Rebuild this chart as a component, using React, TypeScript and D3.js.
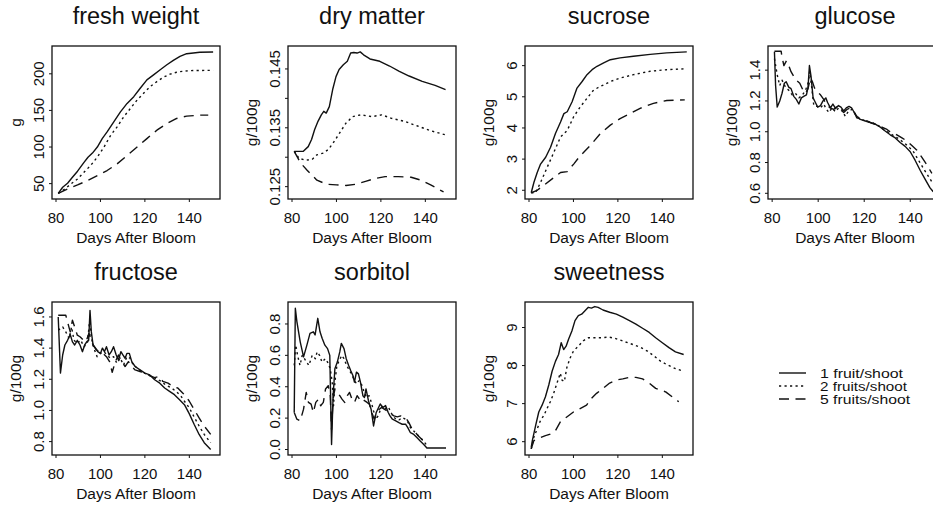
import React from "react";
import * as d3 from "d3";

type Pt = [number, number];

// ---------------- data ----------------
const panelTitles = ["fresh weight", "dry matter", "sucrose", "glucose", "fructose", "sorbitol", "sweetness"];
const yAxisLabels = ["g", "g/100g", "g/100g", "g/100g", "g/100g", "g/100g", "g/100g"];
const xAxisLabel = "Days After Bloom";
const xTickValues = [80, 100, 120, 140];
const legendLabels = ["1 fruit/shoot", "2 fruits/shoot", "5 fruits/shoot"];

const freshTicks = [50, 100, 150, 200];
const freshTickLabels = ["50", "100", "150", "200"];
const dryTicks = [0.125, 0.13, 0.135, 0.14, 0.145];
const dryTickLabels = ["0.125", "", "0.135", "", "0.145"];
const sucroseTicks = [2, 3, 4, 5, 6];
const sucroseTickLabels = ["2", "3", "4", "5", "6"];
const glucoseTicks = [0.6, 0.8, 1.0, 1.2, 1.4];
const glucoseTickLabels = ["0.6", "0.8", "1.0", "1.2", "1.4"];
const fructoseTicks = [0.8, 1.0, 1.2, 1.4, 1.6];
const fructoseTickLabels = ["0.8", "1.0", "1.2", "1.4", "1.6"];
const sorbitolTicks = [0, 0.2, 0.4, 0.6, 0.8];
const sorbitolTickLabels = ["0.0", "0.2", "0.4", "0.6", "0.8"];
const sweetTicks = [6, 7, 8, 9];
const sweetTickLabels = ["6", "7", "8", "9"];

const fresh1: Pt[] = [[81,36.7],[83,45],[85.2,50.5],[87.4,58.7],[89.7,67],[92.6,79],[94.4,86],[96.4,91.7],[98.6,100],[100.8,111.5],[103,120.6],[106,134.4],[109,148],[112,159.6],[115,168.8],[117.9,180.3],[120.9,191.7],[123.9,198.6],[126.9,205.5],[129.9,212.4],[132.8,218.3],[135.8,223.9],[138.8,227.5],[141.8,228.4],[144.7,229.4],[150.7,229.8]];
const fresh2: Pt[] = [[81,36.7],[84,42.7],[86.7,49.5],[89.7,56.4],[92.6,65.6],[95.6,74.8],[98.6,86.2],[101.6,100],[104.6,116],[107.5,127.5],[110.5,141.3],[113.5,152.8],[116.5,164.2],[119.4,173.4],[122.4,182.6],[125.4,189.4],[128.4,195.4],[131.3,199.5],[134.3,202.2],[137.3,203.6],[141.8,204.5],[150.7,204.8]];
const fresh5: Pt[] = [[81,36.7],[85.2,42.7],[89.7,48.2],[94.1,54.1],[98.6,61],[103,67.9],[107.5,77],[112,88.5],[116.5,100],[120.9,111.5],[125.4,123],[129.9,132.1],[134.3,139],[138.8,142.2],[144.7,143.6],[148.5,143.6]];

const dry1: Pt[] = [[81,0.131],[85.1,0.131],[87.3,0.1318],[88.8,0.133],[90.2,0.1347],[91.7,0.1361],[93.2,0.1372],[94.3,0.1378],[95.4,0.1375],[96.8,0.1386],[98.3,0.1415],[99.8,0.1437],[101.2,0.1449],[103.1,0.1457],[104.9,0.1463],[106.4,0.1477],[107.8,0.1478],[109.3,0.1477],[110.7,0.1479],[112.2,0.1474],[115.1,0.1467],[119.5,0.1463],[123.9,0.1455],[128.3,0.1446],[132.7,0.1438],[138.6,0.1429],[144.4,0.1422],[149.1,0.1415]];
const dry2: Pt[] = [[81,0.131],[83.2,0.1298],[86.1,0.1295],[89,0.1296],[91.2,0.1304],[94.1,0.1307],[96.3,0.1313],[98.5,0.1324],[101.4,0.1341],[104.3,0.1358],[107.3,0.1369],[110.9,0.1372],[116,0.1369],[120.4,0.1372],[124.8,0.1366],[130.6,0.1361],[136.5,0.1353],[142.4,0.1345],[149.1,0.1338]];
const dry5: Pt[] = [[81,0.131],[83.9,0.129],[86.8,0.1278],[91.2,0.1261],[95.6,0.1254],[100,0.1253],[104.3,0.1252],[108.7,0.1254],[113.1,0.1259],[117.5,0.1264],[121.9,0.1267],[127.8,0.1267],[133.6,0.1266],[138,0.1261],[142.4,0.1253],[148.2,0.1241]];

const sucrose1: Pt[] = [[81,1.92],[82.2,2.25],[83.7,2.57],[85.2,2.84],[87.5,3.06],[89.7,3.38],[91.9,3.82],[94.2,4.19],[95.7,4.46],[97.2,4.52],[99.4,4.84],[101.6,5.28],[103.9,5.49],[106.1,5.71],[108.4,5.87],[110.6,5.98],[113.6,6.09],[116.6,6.19],[121,6.25],[127,6.3],[134.5,6.36],[142,6.41],[151,6.44]];
const sucrose2: Pt[] = [[81,1.92],[82.9,1.92],[85.2,2.25],[88.2,2.74],[91.2,3.22],[94.2,3.71],[97.2,3.92],[100.1,4.36],[103.1,4.68],[106.1,4.95],[109.1,5.22],[112.1,5.33],[116.6,5.49],[121,5.6],[127,5.71],[134.5,5.82],[142,5.87],[151,5.9]];
const sucrose5: Pt[] = [[81,1.92],[83.7,2],[86.7,2.16],[91.2,2.41],[94.2,2.57],[97.2,2.6],[100.1,2.84],[103.1,3.11],[107.6,3.44],[112.1,3.82],[116.6,4.09],[121,4.3],[125.5,4.46],[130,4.63],[136,4.79],[142,4.88],[150.1,4.9]];

const glucose1: Pt[] = [[81,1.52],[81.5,1.3],[82.2,1.16],[83.3,1.2],[84.3,1.25],[85.3,1.315],[86.1,1.325],[87.2,1.29],[88.2,1.28],[89.4,1.23],[90.5,1.21],[91.6,1.18],[92.7,1.22],[93.7,1.23],[94.9,1.24],[95.6,1.29],[96.2,1.43],[96.9,1.36],[97.8,1.22],[98.8,1.19],[99.8,1.16],[101,1.17],[102.1,1.2],[103.3,1.22],[104.1,1.19],[105.3,1.155],[106.4,1.18],[107.6,1.15],[108.8,1.17],[109.9,1.16],[111.1,1.135],[112.2,1.155],[113.4,1.165],[114.5,1.155],[115.7,1.125],[116.8,1.1],[118.3,1.08],[120.5,1.07],[122.6,1.06],[124.8,1.05],[127,1.03],[129.1,1.005],[131.3,0.98],[133.5,0.96],[135.6,0.93],[137.8,0.905],[140,0.87],[142.1,0.815],[144.3,0.75],[146.5,0.69],[148.6,0.635],[150,0.61]];
const glucose2: Pt[] = [[81,1.475],[82.2,1.37],[83.3,1.3],[84.3,1.335],[85.8,1.29],[87.2,1.27],[88.7,1.24],[90.1,1.25],[91.6,1.22],[93,1.235],[94.5,1.27],[95.6,1.315],[96.3,1.39],[97.1,1.3],[98.1,1.17],[99.5,1.165],[101,1.155],[102.4,1.18],[103.6,1.145],[104.7,1.125],[106,1.155],[107.5,1.13],[108.9,1.155],[110.3,1.14],[111.8,1.1],[113.2,1.135],[114.7,1.145],[116.1,1.115],[117.6,1.09],[119.7,1.075],[121.9,1.065],[124.1,1.055],[126.2,1.04],[128.4,1.015],[130.6,0.995],[132.7,0.975],[134.9,0.955],[137.1,0.93],[139.2,0.905],[141.4,0.87],[143.6,0.815],[145.8,0.76],[147.9,0.71],[149.8,0.665]];
const glucose5: Pt[] = [[81,1.523],[83.9,1.523],[84.3,1.485],[85.1,1.43],[86.2,1.46],[87.2,1.43],[88.2,1.39],[89.4,1.36],[90.5,1.335],[92,1.315],[93.4,1.27],[94.5,1.25],[95.6,1.28],[96.6,1.35],[97.5,1.325],[98.4,1.285],[99.5,1.26],[101,1.24],[102.4,1.21],[103.8,1.17],[105.3,1.155],[106.7,1.145],[108.2,1.165],[109.6,1.145],[111.1,1.125],[112.5,1.145],[114,1.155],[115.4,1.135],[116.8,1.09],[119,1.08],[121.2,1.07],[123.4,1.055],[125.5,1.045],[127.7,1.03],[129.9,1.015],[132,0.99],[134.2,0.98],[136.4,0.96],[138.5,0.94],[140.7,0.91],[142.9,0.88],[145,0.835],[147.2,0.785],[149.4,0.73]];

const fructose1: Pt[] = [[81,1.6],[82,1.24],[83,1.356],[84,1.42],[85.2,1.45],[86.4,1.487],[87.4,1.44],[88.4,1.42],[89.6,1.45],[90.8,1.42],[91.9,1.377],[92.9,1.42],[93.8,1.44],[94.7,1.45],[95.3,1.642],[95.9,1.504],[96.7,1.42],[97.8,1.4],[98.8,1.377],[100,1.366],[100.9,1.4],[101.8,1.377],[102.7,1.409],[103.9,1.356],[104.9,1.377],[105.9,1.409],[107.1,1.356],[108.1,1.324],[109.2,1.377],[110.1,1.356],[111.1,1.335],[111.9,1.366],[113,1.366],[114.1,1.313],[115.6,1.282],[117.8,1.26],[120,1.239],[122.2,1.228],[124.4,1.197],[126.7,1.175],[128.9,1.144],[131.1,1.122],[133.3,1.101],[135.6,1.069],[137.8,1.037],[140,0.978],[142.2,0.91],[144.4,0.846],[146.7,0.793],[149.6,0.75]];
const fructose2: Pt[] = [[81,1.515],[83,1.536],[84.4,1.504],[85.9,1.462],[87,1.536],[88.1,1.451],[89.6,1.43],[91.1,1.451],[92.6,1.409],[94.1,1.43],[95.1,1.568],[96,1.462],[97,1.4],[98.5,1.345],[100,1.366],[101.5,1.377],[103,1.356],[104.4,1.335],[105.9,1.345],[107.4,1.303],[108.9,1.335],[110.4,1.292],[111.9,1.345],[113.3,1.335],[114.8,1.292],[116.6,1.271],[118.5,1.25],[120.7,1.233],[123,1.218],[125.2,1.203],[127.4,1.186],[129.6,1.161],[131.9,1.144],[134.1,1.122],[136.3,1.09],[137.8,1.059],[140,1.016],[142.2,0.957],[144.4,0.9],[146.7,0.846],[149.6,0.793]];
const fructose5: Pt[] = [[81,1.611],[84.4,1.611],[85.2,1.568],[86.4,1.504],[87.4,1.579],[88.4,1.536],[89.6,1.483],[90.8,1.473],[92.3,1.451],[93.5,1.441],[94.8,1.494],[95.6,1.462],[96.7,1.42],[98.2,1.388],[99.7,1.377],[101.2,1.366],[102.7,1.345],[104.1,1.313],[105.3,1.245],[106.7,1.313],[108.1,1.356],[109.6,1.313],[111.1,1.282],[112.6,1.313],[114.1,1.282],[115.6,1.26],[117.8,1.25],[120,1.239],[122.2,1.224],[124.4,1.211],[126.4,1.218],[128.1,1.186],[130.4,1.175],[132.6,1.154],[134.8,1.144],[137,1.112],[138.5,1.09],[140,1.059],[142.2,1.005],[144.4,0.952],[146.7,0.9],[149.6,0.846]];

const sorbitol1: Pt[] = [[81,0.236],[81.5,0.9],[82.2,0.815],[83.7,0.686],[85.2,0.59],[86.7,0.665],[88.1,0.74],[89.6,0.75],[90.4,0.73],[91.6,0.836],[92.6,0.75],[93.6,0.708],[94.8,0.665],[96,0.643],[97,0.6],[97.8,0.032],[98.5,0.343],[99.3,0.515],[100.4,0.557],[101.5,0.622],[102.2,0.676],[103.4,0.643],[104.4,0.579],[105.5,0.536],[106.4,0.504],[107.4,0.472],[108.1,0.429],[109,0.493],[109.9,0.482],[110.8,0.429],[111.9,0.343],[112.6,0.332],[113.3,0.386],[114.4,0.311],[115.6,0.257],[116.7,0.15],[117.9,0.236],[119.7,0.29],[120.9,0.268],[122.1,0.28],[123.3,0.236],[124.1,0.214],[125.2,0.193],[126.7,0.182],[128.1,0.171],[129.6,0.161],[131.1,0.161],[132.1,0.139],[133.3,0.107],[134.8,0.096],[136.3,0.075],[137.8,0.053],[139.3,0.032],[140.7,0.01],[149.3,0.01]];
const sorbitol2: Pt[] = [[81,0.536],[81.7,0.665],[82.5,0.6],[83.6,0.536],[84.6,0.6],[86.1,0.568],[87.6,0.536],[89.1,0.6],[90.5,0.579],[91.3,0.622],[92.4,0.6],[93.5,0.557],[95,0.579],[96,0.557],[97.2,0.515],[98.1,0.429],[98.7,0.279],[99.3,0.429],[100.2,0.536],[101.3,0.568],[102.4,0.6],[103.4,0.579],[104.6,0.536],[105.8,0.504],[106.8,0.482],[107.8,0.45],[109,0.418],[110.2,0.439],[111.2,0.418],[112.3,0.375],[113.5,0.332],[114.7,0.343],[115.7,0.3],[116.7,0.246],[117.9,0.193],[119.1,0.225],[120.1,0.268],[121.1,0.279],[122.3,0.257],[123.5,0.268],[124.5,0.236],[125.5,0.214],[126.7,0.193],[128.1,0.188],[129.6,0.204],[131.1,0.193],[132.3,0.171],[133.3,0.139],[134.8,0.118],[136.3,0.096],[137.8,0.075],[139.3,0.053],[140.7,0.025]];
const sorbitol5: Pt[] = [[81,0.236],[82.2,0.193],[83.7,0.182],[85.2,0.257],[86.4,0.364],[87.4,0.3],[88.6,0.289],[89.6,0.236],[90.7,0.3],[91.9,0.321],[92.9,0.279],[94.1,0.3],[95.1,0.386],[96.3,0.407],[97.2,0.343],[97.8,0.128],[98.5,0.321],[99.3,0.386],[100.4,0.364],[101.5,0.343],[102.5,0.321],[103.7,0.3],[104.9,0.343],[105.9,0.364],[107,0.321],[108.1,0.3],[109.3,0.343],[110.4,0.321],[111.4,0.332],[112.6,0.311],[113.8,0.3],[114.8,0.289],[115.9,0.236],[117,0.193],[118.2,0.236],[119.3,0.257],[120.3,0.268],[121.5,0.257],[122.7,0.246],[123.7,0.236],[124.7,0.225],[125.9,0.214],[127.4,0.208],[128.9,0.214],[130.4,0.204],[131.6,0.193],[132.6,0.171],[134.1,0.128],[135.6,0.107],[137,0.085],[138.5,0.064],[140,0.032]];

const sweet1: Pt[] = [[81,5.85],[81.5,6.03],[83,6.43],[84.4,6.78],[85.9,6.96],[87.4,7.18],[88.9,7.49],[90.4,7.85],[91.9,8.11],[93.3,8.29],[94.5,8.6],[95.6,8.42],[96.7,8.51],[97.8,8.69],[99.3,8.91],[100.7,9.18],[102.2,9.31],[103.7,9.35],[105.2,9.44],[106.7,9.53],[108.1,9.51],[109.6,9.55],[111.1,9.53],[113.3,9.46],[116.3,9.4],[119.3,9.35],[122.2,9.27],[125.2,9.18],[128.1,9.09],[131.1,8.98],[134.1,8.87],[137,8.73],[140,8.6],[143,8.47],[145.9,8.36],[149.6,8.29]];
const sweet2: Pt[] = [[81,5.81],[82.2,6.12],[83.7,6.34],[85.2,6.56],[86.7,6.69],[88.1,6.87],[89.6,7.05],[91.1,7.27],[92.6,7.54],[94.1,7.8],[94.8,7.62],[95.9,7.58],[97,7.94],[98.5,8.2],[100,8.38],[102.2,8.51],[104.4,8.65],[106.7,8.73],[109.6,8.73],[112.6,8.73],[115.6,8.75],[118.5,8.72],[121.5,8.66],[124.4,8.6],[127.4,8.54],[130.4,8.47],[133.3,8.38],[136.3,8.25],[139.3,8.11],[142.2,8.02],[145.9,7.92],[149.6,7.85]];
const sweet5: Pt[] = [[81,5.81],[82.2,6.03],[84.4,6.09],[87.4,6.16],[89.6,6.2],[91.9,6.29],[94.1,6.52],[97,6.65],[100,6.78],[103,6.87],[105.9,6.96],[108.1,7.14],[110.4,7.27],[113.3,7.4],[116.3,7.54],[119.3,7.62],[122.2,7.65],[125.2,7.69],[128.1,7.69],[131.1,7.65],[134.1,7.54],[137,7.4],[141.5,7.31],[144.4,7.18],[147.4,7.05]];

// ---------------- layout / styles ----------------
const W = 933;
const H = 509;
const COL_X = [52, 288, 525, 768];
const COL_W = [168, 168, 168, 174];
const ROW_Y = [46, 302];
const BOX_H = 153;
const X_DOMAIN: [number, number] = [78.2, 153.8];
const FONT = "'Liberation Sans', Arial, Helvetica, sans-serif";
const DASHES = [undefined, "2.2,3.3", "10,6.5"];
const LEGEND_ROWS = [373, 386, 399];
const LEGEND_TEXT_W = [83, 87, 90];

const panels = [
  { series: [fresh1, fresh2, fresh5], ticks: freshTicks, labels: freshTickLabels, yDomain: [29, 238] },
  { series: [dry1, dry2, dry5], ticks: dryTicks, labels: dryTickLabels, yDomain: [0.1229, 0.1489] },
  { series: [sucrose1, sucrose2, sucrose5], ticks: sucroseTicks, labels: sucroseTickLabels, yDomain: [1.72, 6.63] },
  { series: [glucose1, glucose2, glucose5], ticks: glucoseTicks, labels: glucoseTickLabels, yDomain: [0.563, 1.557] },
  { series: [fructose1, fructose2, fructose5], ticks: fructoseTicks, labels: fructoseTickLabels, yDomain: [0.714, 1.696] },
  { series: [sorbitol1, sorbitol2, sorbitol5], ticks: sorbitolTicks, labels: sorbitolTickLabels, yDomain: [-0.035, 0.94] },
  { series: [sweet1, sweet2, sweet5], ticks: sweetTicks, labels: sweetTickLabels, yDomain: [5.65, 9.67] },
];

function Panel({ idx }: { idx: number }) {
  const p = panels[idx];
  const col = idx % 4;
  const row = Math.floor(idx / 4);
  const x0 = COL_X[col];
  const w = COL_W[col];
  const y0 = ROW_Y[row];
  const xs = d3.scaleLinear().domain(X_DOMAIN).range([x0, x0 + w]);
  const ys = d3.scaleLinear().domain(p.yDomain).range([y0 + BOX_H, y0]);
  const line = d3
    .line<Pt>()
    .x((d) => xs(d[0]))
    .y((d) => ys(d[1]));
  const bottom = y0 + BOX_H;
  return (
    <g>
      <text x={x0 + w / 2} y={y0 - 22} textAnchor="middle" fontSize={23.5} fontFamily={FONT} fill="#111">
        {panelTitles[idx]}
      </text>
      {p.series.map((s, i) => (
        <path key={i} d={line(s) || ""} fill="none" stroke="#111" strokeWidth={1.4}
          strokeDasharray={DASHES[i]} strokeLinejoin="round" />
      ))}
      <rect x={x0} y={y0} width={w} height={BOX_H} fill="none" stroke="#111" strokeWidth={1.3} />
      {xTickValues.map((t) => (
        <g key={t}>
          <line x1={xs(t)} x2={xs(t)} y1={bottom} y2={bottom + 3} stroke="#111" strokeWidth={1} />
          <text x={xs(t)} y={bottom + 24} textAnchor="middle" fontSize={15} fontFamily={FONT} fill="#111">
            {t}
          </text>
        </g>
      ))}
      {p.ticks.map((t, i) => (
        <g key={i}>
          <line x1={x0 - 3} x2={x0} y1={ys(t)} y2={ys(t)} stroke="#111" strokeWidth={1} />
          {p.labels[i] && (
            <text transform={`translate(${x0 - 8},${ys(t)}) rotate(-90)`} textAnchor="middle"
              fontSize={15} fontFamily={FONT} fill="#111">
              {p.labels[i]}
            </text>
          )}
        </g>
      ))}
      <text x={x0 + w / 2} y={bottom + 44} textAnchor="middle" fontSize={15.5} fontFamily={FONT} fill="#111">
        {xAxisLabel}
      </text>
      <text transform={`translate(${x0 - 31},${y0 + BOX_H / 2}) rotate(-90)`} textAnchor="middle"
        fontSize={15.5} fontFamily={FONT} fill="#111">
        {yAxisLabels[idx]}
      </text>
    </g>
  );
}

function Legend() {
  return (
    <g>
      {legendLabels.map((lab, i) => (
        <g key={lab}>
          <line x1={779} x2={806} y1={LEGEND_ROWS[i]} y2={LEGEND_ROWS[i]} stroke="#111" strokeWidth={1.4}
            strokeDasharray={DASHES[i]} />
          <text x={820} y={LEGEND_ROWS[i] + 4.5} fontSize={12} fontFamily={FONT} fill="#111"
            textLength={LEGEND_TEXT_W[i]} lengthAdjust="spacingAndGlyphs">
            {lab}
          </text>
        </g>
      ))}
    </g>
  );
}

export default function App() {
  return (
    <svg width={W} height={H} viewBox={`0 0 ${W} ${H}`}
      style={{ position: "absolute", left: 0, top: 0, background: "#fff" }}>
      <rect x={0} y={0} width={W} height={H} fill="#fff" />
      {panels.map((_, i) => (
        <Panel key={i} idx={i} />
      ))}
      <Legend />
    </svg>
  );
}
